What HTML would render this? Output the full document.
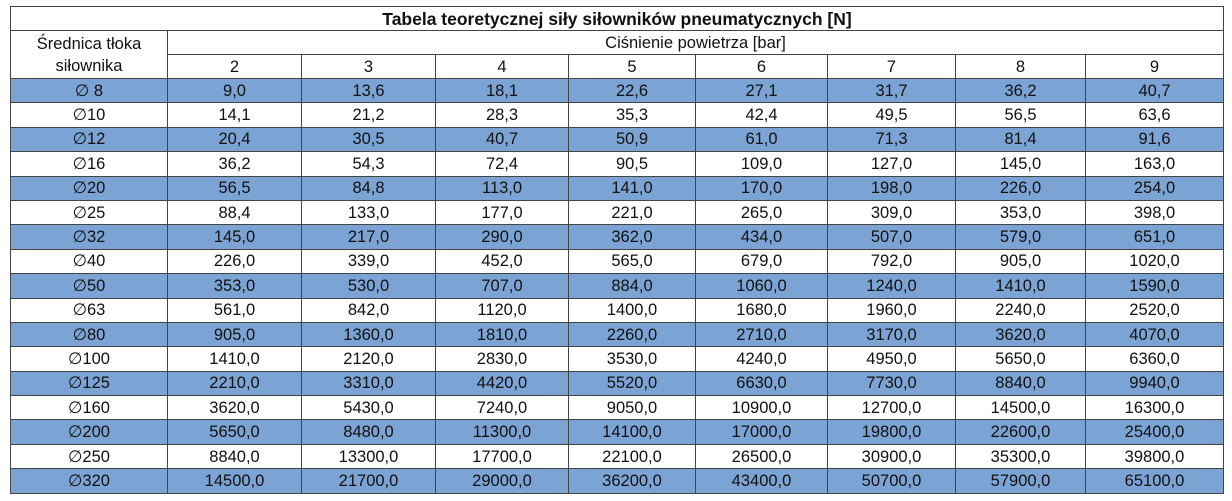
<!DOCTYPE html>
<html><head><meta charset="utf-8"><style>
html,body{margin:0;padding:0;background:#fff;width:1232px;height:501px;overflow:hidden}
table{position:absolute;left:10px;top:6px;border-collapse:collapse;table-layout:fixed;width:1213px;font-family:"Liberation Sans",sans-serif;font-size:16.5px;color:#111}
td{border:1.5px solid #444;text-align:center;padding:0;height:23px;line-height:20px;white-space:nowrap;overflow:hidden}
tr.d td{height:23.4px}
tr.b td{background:#7ba3d4}
.t{font-weight:bold;font-size:17.5px}
</style></head><body>
<table>
<colgroup><col style="width:157px"><col style="width:134px"><col style="width:134px"><col style="width:133px"><col style="width:127px"><col style="width:132px"><col style="width:128px"><col style="width:130px"><col style="width:138px"></colgroup>
<tr><td colspan="9" class="t">Tabela teoretycznej siły siłowników pneumatycznych [N]</td></tr>
<tr><td rowspan="2" style="line-height:22px">Średnica tłoka<br>siłownika</td><td colspan="8">Ciśnienie powietrza [bar]</td></tr>
<tr><td>2</td><td>3</td><td>4</td><td>5</td><td>6</td><td>7</td><td>8</td><td>9</td></tr>
<tr class="d b"><td>∅ 8</td><td>9,0</td><td>13,6</td><td>18,1</td><td>22,6</td><td>27,1</td><td>31,7</td><td>36,2</td><td>40,7</td></tr>
<tr class="d"><td>∅10</td><td>14,1</td><td>21,2</td><td>28,3</td><td>35,3</td><td>42,4</td><td>49,5</td><td>56,5</td><td>63,6</td></tr>
<tr class="d b"><td>∅12</td><td>20,4</td><td>30,5</td><td>40,7</td><td>50,9</td><td>61,0</td><td>71,3</td><td>81,4</td><td>91,6</td></tr>
<tr class="d"><td>∅16</td><td>36,2</td><td>54,3</td><td>72,4</td><td>90,5</td><td>109,0</td><td>127,0</td><td>145,0</td><td>163,0</td></tr>
<tr class="d b"><td>∅20</td><td>56,5</td><td>84,8</td><td>113,0</td><td>141,0</td><td>170,0</td><td>198,0</td><td>226,0</td><td>254,0</td></tr>
<tr class="d"><td>∅25</td><td>88,4</td><td>133,0</td><td>177,0</td><td>221,0</td><td>265,0</td><td>309,0</td><td>353,0</td><td>398,0</td></tr>
<tr class="d b"><td>∅32</td><td>145,0</td><td>217,0</td><td>290,0</td><td>362,0</td><td>434,0</td><td>507,0</td><td>579,0</td><td>651,0</td></tr>
<tr class="d"><td>∅40</td><td>226,0</td><td>339,0</td><td>452,0</td><td>565,0</td><td>679,0</td><td>792,0</td><td>905,0</td><td>1020,0</td></tr>
<tr class="d b"><td>∅50</td><td>353,0</td><td>530,0</td><td>707,0</td><td>884,0</td><td>1060,0</td><td>1240,0</td><td>1410,0</td><td>1590,0</td></tr>
<tr class="d"><td>∅63</td><td>561,0</td><td>842,0</td><td>1120,0</td><td>1400,0</td><td>1680,0</td><td>1960,0</td><td>2240,0</td><td>2520,0</td></tr>
<tr class="d b"><td>∅80</td><td>905,0</td><td>1360,0</td><td>1810,0</td><td>2260,0</td><td>2710,0</td><td>3170,0</td><td>3620,0</td><td>4070,0</td></tr>
<tr class="d"><td>∅100</td><td>1410,0</td><td>2120,0</td><td>2830,0</td><td>3530,0</td><td>4240,0</td><td>4950,0</td><td>5650,0</td><td>6360,0</td></tr>
<tr class="d b"><td>∅125</td><td>2210,0</td><td>3310,0</td><td>4420,0</td><td>5520,0</td><td>6630,0</td><td>7730,0</td><td>8840,0</td><td>9940,0</td></tr>
<tr class="d"><td>∅160</td><td>3620,0</td><td>5430,0</td><td>7240,0</td><td>9050,0</td><td>10900,0</td><td>12700,0</td><td>14500,0</td><td>16300,0</td></tr>
<tr class="d b"><td>∅200</td><td>5650,0</td><td>8480,0</td><td>11300,0</td><td>14100,0</td><td>17000,0</td><td>19800,0</td><td>22600,0</td><td>25400,0</td></tr>
<tr class="d"><td>∅250</td><td>8840,0</td><td>13300,0</td><td>17700,0</td><td>22100,0</td><td>26500,0</td><td>30900,0</td><td>35300,0</td><td>39800,0</td></tr>
<tr class="d b"><td>∅320</td><td>14500,0</td><td>21700,0</td><td>29000,0</td><td>36200,0</td><td>43400,0</td><td>50700,0</td><td>57900,0</td><td>65100,0</td></tr>
</table>
</body></html>
